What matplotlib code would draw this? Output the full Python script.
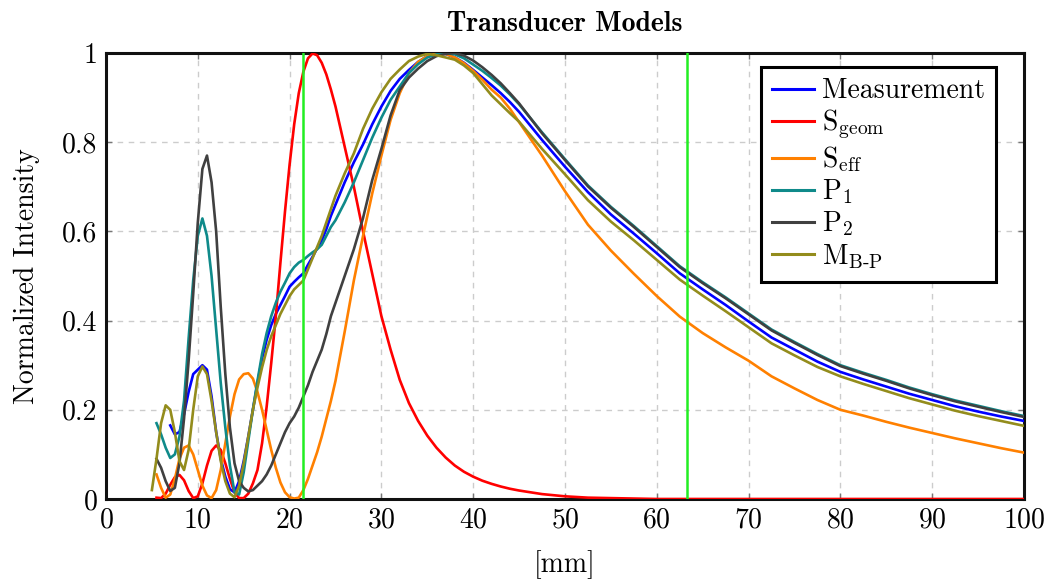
import numpy as np
import matplotlib
matplotlib.use("Agg")
import matplotlib.pyplot as plt

nan = np.nan

# ---- data (x in mm) ----
x_mm = [5.0, 5.5, 6.0, 6.5, 7.0, 7.5, 8.0, 8.5, 9.0, 9.5,
        10.0, 10.5, 11.0, 11.5, 12.0, 12.5, 13.0, 13.5, 14.0, 14.5,
        15.0, 15.5, 16.0, 16.5, 17.0, 17.5, 18.0, 18.5, 19.0, 19.5,
        20.0, 20.5, 21.0, 21.5, 22.0, 22.5, 23.0, 23.5, 24.0, 24.5, 25.0,
        26, 27, 28, 29, 30, 31, 32, 33, 34, 35, 36, 37, 38, 39, 40, 41, 42, 43, 44, 45,
        47.5, 50, 52.5, 55, 57.5, 60, 62.5, 65, 67.5, 70, 72.5, 75, 77.5, 80,
        82.5, 85, 87.5, 90, 92.5, 95, 97.5, 100]

measurement = [nan, nan, nan, nan, 0.165, 0.145, 0.15, 0.19, 0.24, 0.28,
               0.29, 0.30, 0.29, 0.23, 0.15, 0.09, 0.05, 0.022, 0.015, 0.04,
               0.085, 0.14, 0.20, 0.26, 0.315, 0.357, 0.39, 0.415, 0.435, 0.455,
               0.476, 0.487, 0.497, 0.506, 0.525, 0.543, 0.562, 0.58, 0.605, 0.635, 0.66,
               0.71, 0.755, 0.795, 0.84, 0.88, 0.915, 0.942, 0.962, 0.98, 0.993, 0.999, 0.998, 0.99, 0.978,
               0.962, 0.945, 0.928, 0.91, 0.89, 0.868,
               0.805, 0.745, 0.688, 0.638, 0.595, 0.551, 0.506, 0.47, 0.435, 0.398, 0.362, 0.335, 0.308, 0.285,
               0.268, 0.252, 0.236, 0.222, 0.208, 0.196, 0.185, 0.175]

s_geom = [nan, 0.003, 0.002, 0.012, 0.032, 0.049, 0.054, 0.042, 0.018, 0.002,
          0.006, 0.035, 0.075, 0.108, 0.12, 0.11, 0.08, 0.045, 0.015, 0.002,
          0.002, 0.012, 0.035, 0.065, 0.125, 0.207, 0.305, 0.41, 0.53, 0.645,
          0.75, 0.84, 0.91, 0.958, 0.988, 0.999, 0.995, 0.978, 0.952, 0.918, 0.88,
          0.79, 0.70, 0.60, 0.505, 0.41, 0.335, 0.267, 0.215, 0.175, 0.142, 0.115, 0.093, 0.075, 0.061,
          0.05, 0.041, 0.034, 0.028, 0.023, 0.019,
          0.011, 0.006, 0.003, 0.002, 0.001, 0.0, 0.0, 0.0, 0.0, 0.0, 0.0, 0.0, 0.0, 0.0,
          0.0, 0.0, 0.0, 0.0, 0.0, 0.0, 0.0, 0.0]

s_eff = [nan, 0.055, 0.025, 0.003, 0.01, 0.045, 0.09, 0.115, 0.12, 0.10,
         0.065, 0.03, 0.008, 0.002, 0.02, 0.065, 0.125, 0.185, 0.235, 0.268,
         0.28, 0.282, 0.27, 0.24, 0.20, 0.155, 0.11, 0.07, 0.037, 0.015,
         0.004, 0.001, 0.003, 0.02, 0.045, 0.075, 0.105, 0.14, 0.18, 0.22, 0.265,
         0.375, 0.49, 0.59, 0.685, 0.77, 0.85, 0.91, 0.955, 0.98, 0.993, 0.999, 0.998, 0.99, 0.977,
         0.96, 0.94, 0.918, 0.90, 0.875, 0.845,
         0.77, 0.69, 0.615, 0.557, 0.505, 0.455, 0.409, 0.372, 0.34, 0.31, 0.275, 0.248, 0.222, 0.20,
         0.187, 0.173, 0.16, 0.148, 0.136, 0.125, 0.114, 0.104]

p1 = [nan, 0.17, 0.145, 0.115, 0.092, 0.10, 0.14, 0.22, 0.36, 0.49,
      0.59, 0.629, 0.59, 0.50, 0.38, 0.26, 0.16, 0.075, 0.015, 0.01,
      0.06, 0.13, 0.20, 0.265, 0.325, 0.372, 0.41, 0.44, 0.465, 0.485,
      0.506, 0.52, 0.53, 0.536, 0.545, 0.553, 0.56, 0.57, 0.59, 0.61, 0.625,
      0.665, 0.71, 0.76, 0.81, 0.855, 0.895, 0.925, 0.955, 0.975, 0.99, 0.997, 1.0, 0.997, 0.988,
      0.974, 0.96, 0.944, 0.927, 0.907, 0.885,
      0.822, 0.762, 0.703, 0.655, 0.612, 0.567, 0.522, 0.486, 0.452, 0.416, 0.38, 0.352, 0.325, 0.30,
      0.283, 0.267, 0.25, 0.235, 0.221, 0.209, 0.197, 0.186]

p2 = [nan, 0.09, 0.07, 0.04, 0.018, 0.025, 0.08, 0.18, 0.31, 0.46,
      0.62, 0.74, 0.77, 0.71, 0.60, 0.43, 0.28, 0.16, 0.08, 0.04,
      0.025, 0.017, 0.02, 0.03, 0.04, 0.055, 0.075, 0.10, 0.125, 0.15,
      0.17, 0.185, 0.205, 0.23, 0.255, 0.285, 0.31, 0.335, 0.37, 0.41, 0.44,
      0.50, 0.56, 0.63, 0.715, 0.785, 0.86, 0.917, 0.945, 0.965, 0.982, 0.993, 0.998, 1.0, 0.994,
      0.983, 0.968, 0.951, 0.932, 0.91, 0.887,
      0.82, 0.76, 0.701, 0.653, 0.61, 0.565, 0.52, 0.484, 0.45, 0.414, 0.378, 0.35, 0.323, 0.298,
      0.281, 0.265, 0.248, 0.233, 0.219, 0.207, 0.195, 0.184]

m_bp = [0.02, 0.09, 0.17, 0.21, 0.20, 0.15, 0.085, 0.065, 0.11, 0.20,
        0.275, 0.297, 0.28, 0.22, 0.15, 0.085, 0.04, 0.012, 0.004, 0.03,
        0.08, 0.14, 0.20, 0.25, 0.295, 0.334, 0.365, 0.39, 0.415, 0.435,
        0.455, 0.47, 0.48, 0.49, 0.515, 0.54, 0.565, 0.59, 0.62, 0.65, 0.68,
        0.73, 0.775, 0.83, 0.875, 0.912, 0.942, 0.963, 0.982, 0.992, 0.998, 0.995, 0.99, 0.985, 0.972,
        0.955, 0.93, 0.905, 0.885, 0.865, 0.846,
        0.785, 0.728, 0.67, 0.622, 0.58, 0.536, 0.492, 0.456, 0.421, 0.385, 0.349, 0.322, 0.296, 0.275,
        0.258, 0.242, 0.226, 0.212, 0.198, 0.186, 0.175, 0.164]

marker_lines_mm = [21.5, 63.3]

series_labels = ["Measurement",
                 r"$\mathrm{S}_{\mathrm{geom}}$",
                 r"$\mathrm{S}_{\mathrm{eff}}$",
                 r"$\mathrm{P}_{1}$",
                 r"$\mathrm{P}_{2}$",
                 r"$\mathrm{M}_{\mathrm{B\text{-}P}}$"]
series_colors = ["#0000ff", "#ff0000", "#ff8000", "#0f8a8a", "#404040", "#938c1c"]

x_ticks = [0, 10, 20, 30, 40, 50, 60, 70, 80, 90, 100]
y_ticks = [0, 0.2, 0.4, 0.6, 0.8, 1]
y_tick_labels = ["0", "0.2", "0.4", "0.6", "0.8", "1"]

# ---- style ----
plt.rcParams["font.family"] = ["cmr10", "DejaVu Serif"]
plt.rcParams["mathtext.fontset"] = "cm"
plt.rcParams["axes.formatter.use_mathtext"] = True

fig = plt.figure(figsize=(10.56, 5.85), dpi=100)
ax = fig.add_axes([106 / 1056, 1 - 499 / 585, (1024 - 106) / 1056, (499 - 53) / 585])

series = [measurement, s_geom, s_eff, p1, p2, m_bp]
x_arr = np.array(x_mm)
for vals, lab, col in zip(series, series_labels, series_colors):
    ax.plot(x_arr, np.array(vals), color=col, lw=1.9, label=lab, zorder=3,
            solid_joinstyle="round")

for xv in marker_lines_mm:
    ax.axvline(xv, color="#22ee22", lw=1.8, zorder=4)

ax.set_xlim(0, 100)
ax.set_ylim(0, 1)
ax.set_xticks(x_ticks)
ax.set_yticks(y_ticks)
ax.set_yticklabels(y_tick_labels)
ax.grid(True, linestyle=(0, (4, 4)), color="#cccccc", lw=1.0, zorder=0)
ax.tick_params(direction="in", length=4, width=1, color="#777777",
               top=True, right=True, labelsize=20, pad=6)
for sp in ax.spines.values():
    sp.set_linewidth(2.2)
    sp.set_color("#111111")

ax.set_xlabel("[mm]", fontsize=20, labelpad=12)
ax.set_ylabel("Normalized Intensity", fontsize=20, labelpad=16)
ax.set_title("Transducer Models", fontsize=20, fontfamily="cmb10", pad=16)

leg = ax.legend(loc="upper right", bbox_to_anchor=((996 - 106) / 918, (499 - 67) / 446),
                borderaxespad=0, fontsize=20,
                frameon=True, fancybox=False, edgecolor="black", framealpha=1,
                handlelength=1.5, handletextpad=0.3, labelspacing=0.12,
                borderpad=0.4)
leg.get_frame().set_linewidth(2.2)
for h in leg.get_lines():
    h.set_linewidth(2.2)

fig.savefig("out.png", dpi=100)
